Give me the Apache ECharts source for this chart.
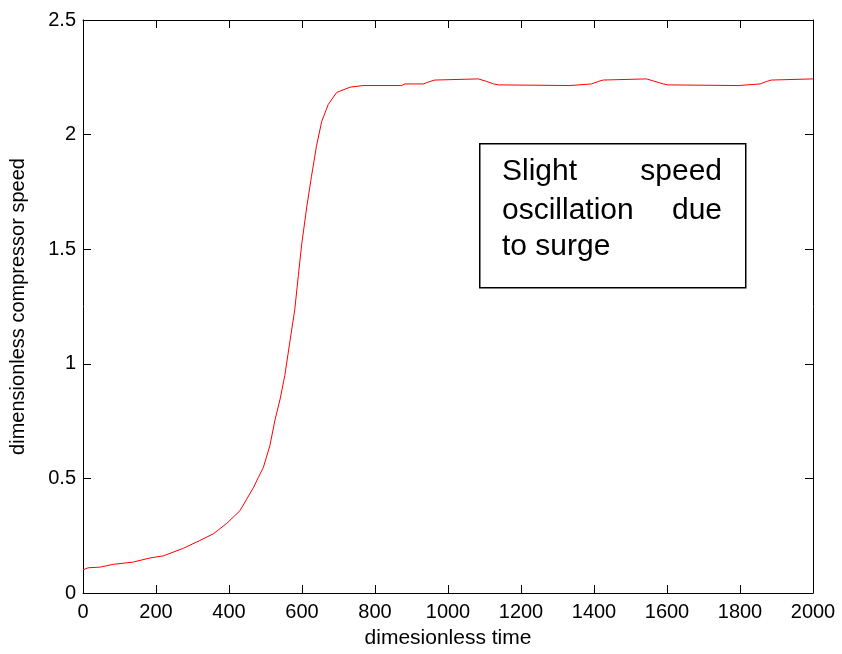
<!DOCTYPE html>
<html>
<head>
<meta charset="utf-8">
<script src="https://cdn.jsdelivr.net/npm/echarts@6/dist/echarts.min.js"></script>
<style>
html,body{margin:0;padding:0;background:#fff;}
#c{width:842px;height:654px;}
</style>
</head>
<body>
<div id="c"></div>
<script>
// dimensionless time
var times = [0,14,47,83,138,184,220,275,320,357,394,430,467,480,494,512,526,540,553,567,580,590,599,613,626,640,654,672,695,732,767,873,882,932,937,951,964,969,1083,1088,1106,1111,1125,1138,1142,1334,1338,1393,1398,1412,1425,1430,1544,1549,1567,1572,1590,1602,1606,1795,1799,1855,1860,1873,1886,1891,2000];
// dimensionless compressor speed
var speeds = [0.101,0.110,0.113,0.125,0.135,0.153,0.162,0.195,0.229,0.258,0.304,0.359,0.460,0.503,0.547,0.643,0.755,0.846,0.950,1.099,1.234,1.385,1.519,1.684,1.818,1.953,2.057,2.132,2.184,2.207,2.214,2.214,2.221,2.221,2.226,2.232,2.238,2.243,2.243,2.238,2.232,2.226,2.221,2.217,2.214,2.214,2.221,2.221,2.226,2.232,2.238,2.243,2.243,2.238,2.232,2.226,2.221,2.217,2.214,2.214,2.221,2.221,2.226,2.232,2.238,2.243,2.243];
var xTicks = [0,200,400,600,800,1000,1200,1400,1600,1800,2000];
var yTicks = [0,0.5,1,1.5,2,2.5];
var annotationLines = [["Slight","speed"],["oscillation","due"],["to surge",""]];

var FONT = '"Liberation Sans", Arial, Helvetica, sans-serif';
var data = times.map(function(t,i){return [t, speeds[i]];});

var chart = echarts.init(document.getElementById('c'), null, {renderer:'canvas'});

var gridL = 83, gridT = 20, gridR = 29, gridB = 58;

var axisLine = {show:true, onZero:false, lineStyle:{color:'#000', width:1}};
var tickIn = {show:true, inside:true, length:8, lineStyle:{color:'#000', width:1}};
function plain(v){ return String(v); }

var graphics = [];
// annotation box
graphics.push({type:'rect', left:479, top:143, shape:{width:266, height:144}, style:{fill:'#fff', stroke:'#000', lineWidth:1.5}, z:10});
var lineY = [172, 211, 247];
annotationLines.forEach(function(pair, i){
  graphics.push({type:'text', x:502, y:lineY[i], style:{text:pair[0], font:'30px '+FONT, fill:'#000', textAlign:'left', textVerticalAlign:'middle'}, z:11});
  if (pair[1]) graphics.push({type:'text', x:722, y:lineY[i], style:{text:pair[1], font:'30px '+FONT, fill:'#000', textAlign:'right', textVerticalAlign:'middle'}, z:11});
});

chart.setOption({
  backgroundColor:'#fff',
  animation:false,
  grid:{left:gridL, top:gridT, right:gridR, bottom:gridB, containLabel:false},
  xAxis:[{
    type:'value', min:xTicks[0], max:xTicks[xTicks.length-1], interval:xTicks[1]-xTicks[0],
    position:'bottom',
    name:'dimesionless time', nameLocation:'middle', nameGap:35,
    nameTextStyle:{color:'#000', fontSize:21, fontFamily:FONT},
    axisLine:axisLine, axisTick:tickIn,
    axisLabel:{color:'#000', fontSize:20, fontFamily:FONT, margin:9, formatter:plain},
    splitLine:{show:false}
  },{
    type:'value', min:xTicks[0], max:xTicks[xTicks.length-1], interval:xTicks[1]-xTicks[0],
    position:'top',
    axisLine:axisLine, axisTick:tickIn, axisLabel:{show:false}, splitLine:{show:false}
  }],
  yAxis:[{
    type:'value', min:yTicks[0], max:yTicks[yTicks.length-1], interval:yTicks[1]-yTicks[0],
    position:'left',
    name:'dimensionless compressor speed', nameLocation:'middle', nameGap:55,
    nameTextStyle:{color:'#000', fontSize:20, fontFamily:FONT},
    axisLine:axisLine, axisTick:tickIn,
    axisLabel:{color:'#000', fontSize:20, fontFamily:FONT, margin:7, formatter:plain},
    splitLine:{show:false}
  },{
    type:'value', min:yTicks[0], max:yTicks[yTicks.length-1], interval:yTicks[1]-yTicks[0],
    position:'right',
    axisLine:axisLine, axisTick:tickIn, axisLabel:{show:false}, splitLine:{show:false}
  }],
  series:[{
    type:'line', data:data, xAxisIndex:0, yAxisIndex:0,
    showSymbol:false, smooth:false,
    lineStyle:{color:'#ff0000', width:1},
    itemStyle:{color:'#ff0000'}
  }],
  graphic:graphics
});
</script>
</body>
</html>
